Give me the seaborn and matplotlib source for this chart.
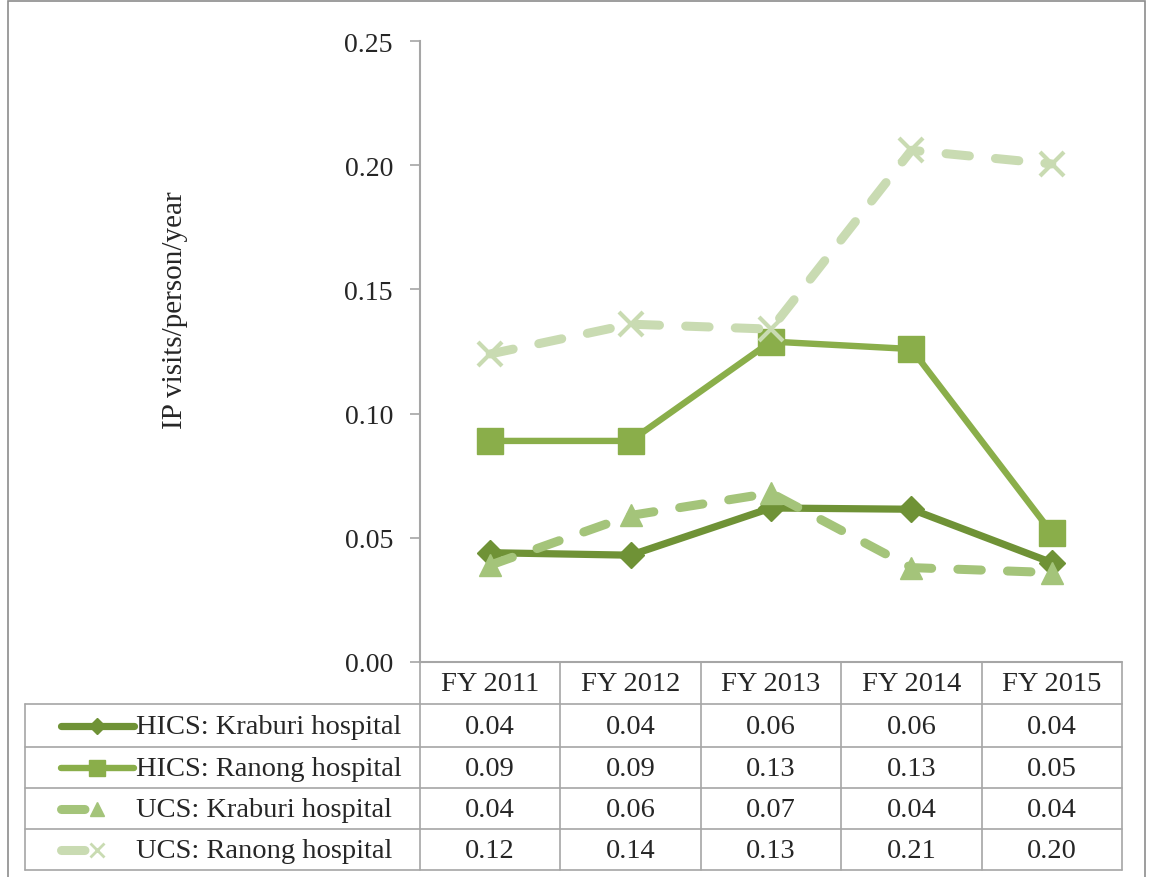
import matplotlib
matplotlib.use('Agg')
import matplotlib.pyplot as plt
import seaborn as sns
import pandas as pd
from matplotlib.lines import Line2D
from matplotlib.patches import Rectangle

# Data
years = ['FY 2011', 'FY 2012', 'FY 2013', 'FY 2014', 'FY 2015']
series_names = ['HICS: Kraburi hospital', 'HICS: Ranong hospital',
                'UCS: Kraburi hospital', 'UCS: Ranong hospital']
hics_kraburi = [0.044, 0.043, 0.062, 0.0615, 0.040]
hics_ranong = [0.089, 0.089, 0.129, 0.126, 0.052]
ucs_kraburi = [0.039, 0.059, 0.068, 0.038, 0.036]
ucs_ranong = [0.124, 0.136, 0.134, 0.206, 0.2005]
all_values = [hics_kraburi, hics_ranong, ucs_kraburi, ucs_ranong]

# styling per series
colors = ['#6f9236', '#8aae4a', '#a4c47a', '#c9dbb2']
markers = ['D', 's', '^', 'x']
msizes = [13, 19, 16, 17]
lws = [5.2, 4.6, 6.5, 6.5]
dashed = [False, False, True, True]

sns.set_style('white')
plt.rcParams['font.family'] = ['Liberation Serif', 'DejaVu Serif']

W, H = 1149, 878
fig = plt.figure(figsize=(W / 100, H / 100), dpi=100)

# plot area (pixel layout)
px0, px1, py0, py1 = 420, 1122, 42, 663
ax = fig.add_axes([px0 / W, 1 - py1 / H, (px1 - px0) / W, (py1 - py0) / H])

for name, vals, c, m, ms, lw, d in zip(series_names, all_values, colors, markers,
                                         msizes, lws, dashed):
    df = pd.DataFrame({'year': years, 'value': vals})
    sns.lineplot(data=df, x='year', y='value', ax=ax, color=c, marker=m,
                 markersize=ms, linewidth=lw, markeredgecolor=c,
                 markeredgewidth=3 if m == 'x' else 1, sort=False)
    ln = ax.get_lines()[-1]
    if d:
        ln.set_dashes([2.6, 2.9])
        ln.set_dash_capstyle('round')
    else:
        ln.set_solid_capstyle('round')

ax.set_xlim(-0.5, 4.5)
ax.set_ylim(0, 0.25)
ax.set_yticks([0, 0.05, 0.10, 0.15, 0.20, 0.25])
ax.set_yticklabels(['0.00', '0.05', '0.10', '0.15', '0.20', '0.25'], fontsize=20)
ax.set_xticks([])
ax.set_xlabel('')
ax.set_ylabel('')
ax.tick_params(axis='y', direction='out', length=7.5, width=1.2, color='#a6a6a6',
               pad=12, left=True)
for s in ['top', 'right', 'bottom']:
    ax.spines[s].set_visible(False)
ax.spines['left'].set_color('#a6a6a6')
ax.spines['left'].set_linewidth(1.5)

fig.text(175 / W, 1 - 310 / H, 'IP visits/person/year', rotation=90,
         ha='center', va='center', fontsize=21)

# data table below the plot, drawn in pixel units
tx0, ty1 = 25, 871
tab = fig.add_axes([tx0 / W, 1 - ty1 / H, (px1 - tx0) / W, (ty1 - py1) / H])
tab.set_xlim(tx0, px1)
tab.set_ylim(ty1, py1)
tab.axis('off')

grid = '#a6a6a6'
col_w = (px1 - px0) / len(years)
row_edges = [663, 705, 748, 789, 830, 871]
col_edges = [px0 + i * col_w for i in range(len(years) + 1)]

# horizontal lines
tab.plot([px0, px1], [row_edges[0]] * 2, color=grid, lw=1.5, clip_on=False)
for yy in row_edges[1:]:
    tab.plot([tx0, px1], [yy, yy], color=grid, lw=1.2, clip_on=False)
# vertical lines
for xx in col_edges:
    tab.plot([xx, xx], [row_edges[0], ty1], color=grid, lw=1.2, clip_on=False)
tab.plot([tx0, tx0], [row_edges[1], ty1], color=grid, lw=1.2, clip_on=False)

for j, yr in enumerate(years):
    tab.text(col_edges[j] + col_w / 2, (row_edges[0] + row_edges[1]) / 2 + 1, yr,
             ha='center', va='center', fontsize=20.5)

for i, (name, vals) in enumerate(zip(series_names, all_values)):
    yc = (row_edges[i + 1] + row_edges[i + 2]) / 2
    for j, v in enumerate(vals):
        tab.text(col_edges[j] + col_w / 2, yc + 1, f'{v:.2f}', ha='center',
                 va='center', fontsize=20.5)
    tab.text(136, yc + 1, name, ha='left', va='center', fontsize=20.5)
    # legend key
    key = Line2D([61, 134] if not dashed[i] else [61, 97], [yc, yc], color=colors[i],
                 lw=lws[i], solid_capstyle='round', dash_capstyle='round')
    if dashed[i]:
        key.set_dashes([2.6, 2.9])
    tab.add_line(key)
    tab.plot([97], [yc], marker=markers[i], color=colors[i],
             markersize=msizes[i] * 0.6, markeredgecolor=colors[i],
             markeredgewidth=2 if markers[i] == 'x' else 1, clip_on=False)

# outer chart border
fig.add_artist(Rectangle((8 / W, -0.01), (1145 - 8) / W, 1.01 - 2 / H,
                         transform=fig.transFigure, fill=False,
                         edgecolor='#8c8c8c', lw=1.2))

plt.savefig('out.png', dpi=100)
